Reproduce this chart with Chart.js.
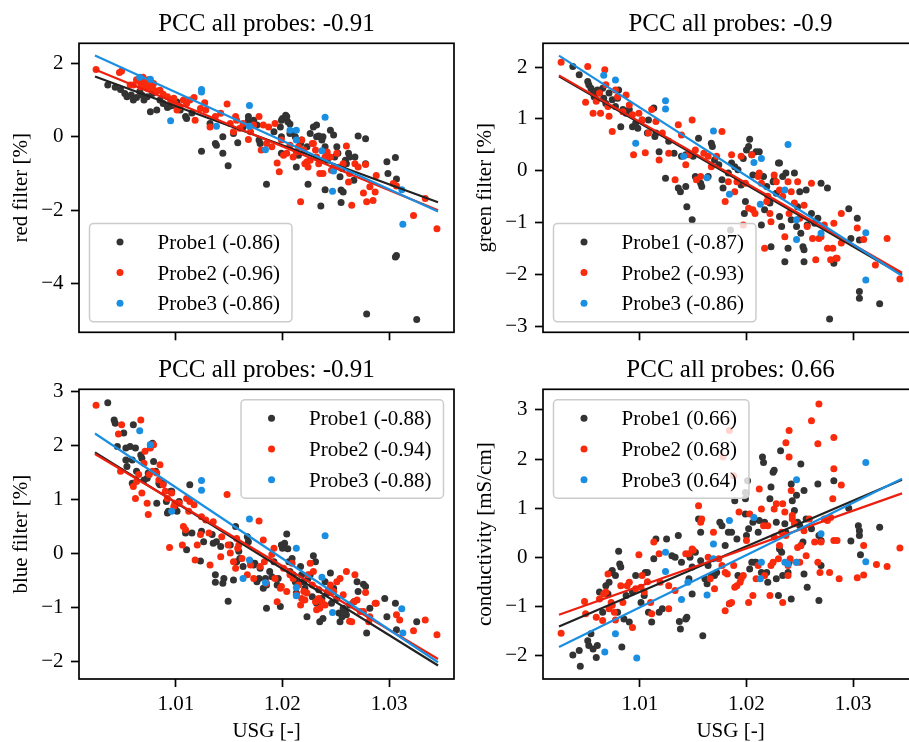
<!DOCTYPE html>
<html><head><meta charset="utf-8">
<script src="https://cdn.jsdelivr.net/npm/chart.js@4.4.1/dist/chart.umd.min.js"></script>
<style>
html,body{margin:0;padding:0;background:#fff;width:909px;height:742px;overflow:hidden;}
#wrap{position:relative;width:909px;height:742px;overflow:hidden;background:#fff;}
canvas{position:absolute;}
</style></head><body><div id="wrap">
<canvas id="c1" width="460" height="350" style="left:0px;top:0px"></canvas>
<canvas id="c2" width="470" height="350" style="left:460px;top:0px"></canvas>
<canvas id="c3" width="460" height="392" style="left:0px;top:350px"></canvas>
<canvas id="c4" width="470" height="392" style="left:460px;top:350px"></canvas>
</div>
<script>
// ---------------- DATA ----------------
const xTicks = [1.01, 1.02, 1.03];
const fitX = [1.0024, 1.0346];

const panelTitles = ['PCC all probes: -0.91', 'PCC all probes: -0.9', 'PCC all probes: -0.91', 'PCC all probes: 0.66'];
const yLabels = ['red filter [%]', 'green filter [%]', 'blue filter [%]', 'conductivity [mS/cm]'];
const xLabel = 'USG [-]';

const redLegend = ['Probe1 (-0.86)', 'Probe2 (-0.96)', 'Probe3 (-0.86)'];
const greenLegend = ['Probe1 (-0.87)', 'Probe2 (-0.93)', 'Probe3 (-0.86)'];
const blueLegend = ['Probe1 (-0.88)', 'Probe2 (-0.94)', 'Probe3 (-0.88)'];
const condLegend = ['Probe1 (0.66)', 'Probe2 (0.68)', 'Probe3 (0.64)'];

const redTicks = [-4, -2, 0, 2];
const greenTicks = [-3, -2, -1, 0, 1, 2];
const blueTicks = [-2, -1, 0, 1, 2, 3];
const condTicks = [-2, -1, 0, 1, 2, 3];

// red filter
const redProbe1 = [[1.0036,1.41],[1.0043,1.35],[1.0048,1.29],[1.0052,1.18],[1.0054,1.09],[1.0058,1.14],[1.0060,1.0],[1.0063,1.07],[1.0066,1.23],[1.0068,1.14],[1.0070,1.0],[1.0073,1.09],[1.0076,0.68],[1.0078,1.18],[1.0082,0.73],[1.0085,1.0],[1.0088,0.91],[1.0092,0.8],[1.0095,0.84],[1.0098,0.86],[1.0101,0.95],[1.0104,0.73],[1.0109,0.55],[1.0110,0.5],[1.0115,0.65],[1.0124,-0.39],[1.0132,0.36],[1.0137,-0.18],[1.0138,-0.23],[1.0144,0],[1.0144,-0.45],[1.0149,-0.79],[1.0154,0.09],[1.0158,-0.16],[1.0163,0.27],[1.0168,0.55],[1.0168,0.45],[1.0173,0.45],[1.0176,0.32],[1.0178,-0.09],[1.0179,-0.18],[1.0185,-1.29],[1.0192,0.14],[1.0198,0.27],[1.0199,0.45],[1.0200,0.5],[1.0203,0.59],[1.0204,0.55],[1.0205,0.41],[1.0207,0.35],[1.0199,0],[1.0199,-0.45],[1.0207,0.09],[1.0210,0.14],[1.0212,0],[1.0213,-0.82],[1.0215,-0.5],[1.0217,-0.18],[1.0218,-0.09],[1.0223,-0.27],[1.0224,-1.29],[1.0226,0.09],[1.0229,0.27],[1.0232,0.32],[1.0232,0],[1.0234,0.02],[1.0236,-1.88],[1.0237,-0.09],[1.0238,0],[1.0240,-0.27],[1.0240,-1.44],[1.0242,-0.64],[1.0245,0.18],[1.0248,0.05],[1.0249,-0.55],[1.0251,-0.27],[1.0252,-0.45],[1.0254,-1.09],[1.0255,-1.45],[1.0256,-0.86],[1.0257,-1.5],[1.0259,-0.64],[1.0260,-0.73],[1.0262,-0.45],[1.0263,-0.55],[1.0267,-1.18],[1.0268,-0.55],[1.0271,0.02],[1.0278,-0.05],[1.0279,-4.82],[1.0298,-0.68],[1.0299,-1.0],[1.0306,-0.56],[1.0307,-1.15],[1.0307,-3.23],[1.0306,-3.27],[1.0326,-4.97],[1.0278,-0.73],[1.0255,-1.79]];
const redProbe2 = [[1.0025,1.83],[1.0047,1.75],[1.0049,1.79],[1.0057,1.41],[1.0060,1.41],[1.0063,1.55],[1.0066,1.5],[1.0067,1.36],[1.0069,1.62],[1.0070,1.45],[1.0072,1.45],[1.0073,1.32],[1.0074,1.55],[1.0075,1.36],[1.0078,1.32],[1.0079,1.45],[1.0082,1.25],[1.0085,1.27],[1.0088,1.16],[1.0092,1.09],[1.0095,1.0],[1.0098,1.05],[1.0099,0.91],[1.0101,0.73],[1.0104,0.82],[1.0107,1.0],[1.0110,0.91],[1.0113,1.0],[1.0117,1.07],[1.0118,0.45],[1.0123,0.77],[1.0127,0.93],[1.0128,0.73],[1.0132,0.27],[1.0137,0.55],[1.0142,0.64],[1.0148,0.89],[1.0151,0.36],[1.0154,0.14],[1.0156,0.55],[1.0157,0.45],[1.0160,0.23],[1.0163,0.36],[1.0168,-0.07],[1.0170,0.14],[1.0173,0.32],[1.0178,0.55],[1.0180,-0.36],[1.0182,0.32],[1.0185,-0.18],[1.0187,0.27],[1.0190,-0.27],[1.0193,0.36],[1.0195,-0.71],[1.0197,-0.95],[1.0199,-0.09],[1.0201,-0.5],[1.0204,-0.45],[1.0207,-0.23],[1.0210,-0.55],[1.0213,-0.41],[1.0215,-0.27],[1.0217,-1.77],[1.0218,-0.09],[1.0220,-0.36],[1.0221,-0.73],[1.0223,-0.68],[1.0224,-0.82],[1.0226,-0.64],[1.0228,-0.18],[1.0229,-0.18],[1.0231,-0.36],[1.0232,-0.55],[1.0234,-0.73],[1.0235,-1.0],[1.0237,-0.64],[1.0238,-1.0],[1.0240,-0.55],[1.0242,-0.41],[1.0245,-0.55],[1.0246,-0.91],[1.0248,-0.82],[1.0251,-0.45],[1.0254,-0.82],[1.0257,-0.73],[1.0260,-0.25],[1.0262,-1.23],[1.0263,-1.0],[1.0265,-1.86],[1.0268,-0.73],[1.0271,-0.82],[1.0276,-1.53],[1.0278,-0.75],[1.0279,-1.77],[1.0282,-1.36],[1.0285,-1.73],[1.0287,-1.5],[1.0288,-1.05],[1.0304,-1.27],[1.0307,-1.34],[1.0323,-2.14],[1.0334,-1.68],[1.0345,-2.5]];
const redProbe3 = [[1.0066,1.62],[1.0076,1.57],[1.0095,0.44],[1.0124,1.29],[1.0124,1.22],[1.0138,0.29],[1.0169,0.85],[1.0169,0.29],[1.0184,-0.35],[1.0207,0.18],[1.0213,0.18],[1.0213,-0.09],[1.0240,0.53],[1.0237,-0.38],[1.0247,-1.48],[1.0248,-0.93],[1.0313,-2.38],[1.0312,-1.44]];
const redFit1 = [1.64, -1.78];
const redFit2 = [1.83, -2.0];
const redFit3 = [2.21, -2.03];

// green filter
const greenProbe1 = [[1.0037,2.01],[1.0043,1.85],[1.0051,1.72],[1.0052,1.66],[1.0054,1.59],[1.0056,1.53],[1.0057,1.43],[1.0059,1.37],[1.0060,1.56],[1.0062,1.5],[1.0065,1.59],[1.0066,1.4],[1.0068,1.3],[1.0071,1.5],[1.0074,1.37],[1.0077,1.24],[1.0079,1.4],[1.0080,1.56],[1.0082,0.85],[1.0084,1.18],[1.0087,1.11],[1.0090,1.18],[1.0093,0.85],[1.0096,0.92],[1.0098,0.82],[1.0102,0.98],[1.0107,0.73],[1.0108,0.98],[1.0113,1.21],[1.0114,0.66],[1.0115,0.73],[1.0118,0.37],[1.0124,-0.14],[1.0127,0.57],[1.0132,0.34],[1.0136,-0.33],[1.0138,-0.4],[1.0139,0.28],[1.0143,0.31],[1.0143,-0.3],[1.0144,-0.69],[1.0149,-0.94],[1.0150,0.28],[1.0152,-0.11],[1.0155,0.63],[1.0157,-0.24],[1.0158,-0.3],[1.0164,-0.11],[1.0167,0.53],[1.0168,0.47],[1.0170,0.21],[1.0174,0.12],[1.0177,-0.17],[1.0178,-0.33],[1.0183,-0.04],[1.0186,0.15],[1.0189,0.08],[1.0192,0.02],[1.0195,-0.27],[1.0197,0.24],[1.0198,-0.82],[1.0199,-0.59],[1.0200,0.4],[1.0202,0.47],[1.0203,0.61],[1.0205,0.31],[1.0206,-0.08],[1.0209,0.37],[1.0211,-0.08],[1.0212,0.37],[1.0214,-1.04],[1.0216,-0.11],[1.0217,-0.75],[1.0219,-0.3],[1.0222,-0.62],[1.0223,-1.46],[1.0225,-0.21],[1.0226,-0.17],[1.0228,-0.43],[1.0230,0.15],[1.0231,0.15],[1.0231,-0.88],[1.0233,-1.07],[1.0234,-0.11],[1.0236,-1.75],[1.0237,-0.04],[1.0239,-1.49],[1.0242,-0.94],[1.0245,-0.04],[1.0247,-1.07],[1.0248,-0.69],[1.0250,-0.4],[1.0251,-1.2],[1.0253,-1.46],[1.0254,-1.52],[1.0254,-1.75],[1.0256,-0.37],[1.0257,-1.04],[1.0261,-0.82],[1.0264,-1.01],[1.0267,-0.91],[1.0270,-0.24],[1.0276,-0.33],[1.0278,-2.85],[1.0282,-1.78],[1.0296,-0.73],[1.0298,-1.3],[1.0304,-0.91],[1.0306,-1.33],[1.0306,-2.32],[1.0306,-2.45],[1.0325,-2.56],[1.0185,-1.14]];
const greenProbe2 = [[1.0026,2.09],[1.0049,1.32],[1.0051,2.01],[1.0056,1.11],[1.0059,1.34],[1.0062,1.5],[1.0063,1.11],[1.0067,1.95],[1.0068,1.66],[1.0070,1.24],[1.0071,1.05],[1.0074,0.76],[1.0077,1.56],[1.0079,1.43],[1.0084,1.14],[1.0087,1.46],[1.0090,1.27],[1.0093,1.08],[1.0094,0.31],[1.0099,1.11],[1.0102,0.98],[1.0105,0.35],[1.0108,0.73],[1.0111,1.18],[1.0115,0.95],[1.0118,0.21],[1.0121,0.73],[1.0127,0.34],[1.0133,-0.17],[1.0136,0.89],[1.0139,0.69],[1.0143,0.12],[1.0146,0.31],[1.0149,0.98],[1.0152,0.4],[1.0153,-0.17],[1.0157,-0.11],[1.0160,0.34],[1.0164,0.28],[1.0167,0.08],[1.0172,0.28],[1.0177,0.76],[1.0180,-0.59],[1.0183,-0.21],[1.0186,0.31],[1.0189,-0.4],[1.0191,-0.21],[1.0195,0.28],[1.0197,-1.04],[1.0199,-0.24],[1.0202,-0.72],[1.0205,0.31],[1.0206,-0.75],[1.0208,-0.82],[1.0211,-0.11],[1.0212,-0.04],[1.0214,-0.24],[1.0217,-1.49],[1.0219,-0.59],[1.0220,-0.49],[1.0222,-0.82],[1.0223,-0.98],[1.0226,-0.08],[1.0228,-0.21],[1.0231,-0.37],[1.0234,-0.49],[1.0236,-1.27],[1.0239,-0.21],[1.0240,-0.82],[1.0242,-0.4],[1.0245,-0.62],[1.0248,-0.21],[1.0250,-0.91],[1.0254,-0.66],[1.0257,-1.07],[1.0261,-0.24],[1.0262,-1.3],[1.0265,-1.71],[1.0268,-1.3],[1.0270,-1.27],[1.0273,-1.04],[1.0276,-1.49],[1.0279,-1.71],[1.0281,-1.49],[1.0282,-1.01],[1.0284,-1.68],[1.0285,-1.68],[1.0289,-0.82],[1.0289,-1.39],[1.0304,-1.1],[1.0310,-1.32],[1.0321,-1.81],[1.0332,-1.3],[1.0344,-2.08]];
const greenProbe3 = [[1.0066,1.84],[1.0077,1.75],[1.0096,0.53],[1.0124,1.35],[1.0124,1.19],[1.0141,0.28],[1.0169,0.77],[1.0163,-0.13],[1.0184,-0.45],[1.0207,0.16],[1.0213,-0.64],[1.0214,0.24],[1.0236,-0.37],[1.0239,0.51],[1.0247,-1.32],[1.0247,-0.94],[1.0270,-1.2],[1.0312,-1.19],[1.0312,-2.1]];
const greenFit1 = [1.82, -2.0];
const greenFit2 = [1.84, -1.96];
const greenFit3 = [2.22, -2.02];

// blue filter
const blueProbe1 = [[1.0036,2.79],[1.0042,2.47],[1.0043,2.41],[1.0045,1.98],[1.0051,2.23],[1.0053,1.95],[1.0053,1.73],[1.0054,1.61],[1.0057,1.98],[1.0059,1.73],[1.0059,1.3],[1.0060,2.38],[1.0062,1.95],[1.0063,1.52],[1.0067,1.82],[1.0068,1.76],[1.0070,1.36],[1.0073,1.39],[1.0074,1.49],[1.0076,2.01],[1.0078,2.04],[1.0079,1.7],[1.0081,1.52],[1.0082,0.93],[1.0084,1.3],[1.0085,1.27],[1.0088,1.3],[1.0091,0.96],[1.0092,0.75],[1.0093,0.78],[1.0095,1.15],[1.0096,1.15],[1.0099,0.84],[1.0101,0.78],[1.0103,0.96],[1.0109,0.38],[1.0110,0.07],[1.0113,1.27],[1.0115,0.38],[1.0123,-0.14],[1.0124,0.41],[1.0126,0.22],[1.0134,0.35],[1.0135,0.19],[1.0137,-0.39],[1.0137,-0.53],[1.0138,0.22],[1.0142,0.13],[1.0144,-0.55],[1.0145,-0.46],[1.0149,-0.88],[1.0151,0.16],[1.0154,-0.49],[1.0156,0.5],[1.0157,-0.15],[1.0159,0.04],[1.0160,-0.09],[1.0163,-0.24],[1.0167,0.31],[1.0168,0.22],[1.0170,-0.15],[1.0173,-0.21],[1.0174,-0.18],[1.0176,-0.52],[1.0178,-0.46],[1.0179,-0.27],[1.0182,-0.64],[1.0184,-0.46],[1.0185,-1.01],[1.0185,-0.58],[1.0188,-0.33],[1.0190,-0.43],[1.0192,-0.15],[1.0195,-0.58],[1.0196,-0.46],[1.0198,-0.98],[1.0199,0.16],[1.0200,0.1],[1.0202,0.19],[1.0204,0.36],[1.0205,0.09],[1.0206,-0.15],[1.0207,-0.33],[1.0209,-0.09],[1.0210,-0.39],[1.0212,-0.52],[1.0213,-0.73],[1.0215,-0.55],[1.0217,-0.24],[1.0218,-0.39],[1.0220,-0.52],[1.0221,-0.64],[1.0223,-1.17],[1.0224,-0.46],[1.0226,-0.39],[1.0228,-0.8],[1.0229,-0.04],[1.0231,-0.15],[1.0232,-0.92],[1.0234,-0.67],[1.0235,-1.26],[1.0237,-0.83],[1.0238,-1.2],[1.0240,-0.52],[1.0242,-0.73],[1.0245,-0.36],[1.0246,-0.92],[1.0248,-0.64],[1.0251,-0.83],[1.0253,-1.1],[1.0254,-1.26],[1.0256,-1.17],[1.0257,-1.01],[1.0259,-1.07],[1.0260,-1.13],[1.0263,-0.95],[1.0267,-0.89],[1.0270,-0.52],[1.0271,-0.7],[1.0276,-0.57],[1.0278,-0.61],[1.0279,-1.47],[1.0282,-1.01],[1.0296,-0.83],[1.0298,-1.17],[1.0306,-0.92],[1.0307,-1.41],[1.0326,-1.26]];
const blueProbe2 = [[1.0025,2.74],[1.0048,1.52],[1.0049,2.38],[1.0046,2.21],[1.0060,1.24],[1.0062,1.02],[1.0063,1.33],[1.0065,1.46],[1.0067,2.47],[1.0068,1.12],[1.0070,1.67],[1.0071,1.89],[1.0073,0.93],[1.0074,0.72],[1.0075,1.46],[1.0076,1.95],[1.0078,1.52],[1.0079,2.01],[1.0082,1.49],[1.0084,1.36],[1.0085,1.64],[1.0088,1.27],[1.0090,1.15],[1.0092,1.02],[1.0094,0.11],[1.0096,1.12],[1.0098,0.87],[1.0099,0.93],[1.0103,0.93],[1.0106,0.16],[1.0107,0.5],[1.0109,0.44],[1.0110,1.02],[1.0112,0.78],[1.0113,0.96],[1.0117,0.9],[1.0118,-0.12],[1.0120,0.16],[1.0123,0.35],[1.0124,0.68],[1.0128,0.62],[1.0131,0.38],[1.0132,-0.21],[1.0135,0.59],[1.0142,-0.06],[1.0143,0.31],[1.0148,1.09],[1.0149,0.16],[1.0151,0.01],[1.0154,-0.15],[1.0156,-0.27],[1.0157,0.28],[1.0158,0.1],[1.0159,0.16],[1.0162,-0.09],[1.0167,-0.39],[1.0170,-0.21],[1.0173,-0.46],[1.0178,0.6],[1.0179,-0.24],[1.0182,0.25],[1.0183,-0.15],[1.0185,-0.55],[1.0190,-0.02],[1.0192,0.1],[1.0193,-0.46],[1.0195,-0.89],[1.0198,-0.64],[1.0199,-0.61],[1.0201,-0.27],[1.0204,-0.7],[1.0207,-0.39],[1.0209,-0.18],[1.0210,-0.46],[1.0213,-0.76],[1.0215,-0.58],[1.0217,-0.95],[1.0218,-0.83],[1.0220,-0.7],[1.0221,-0.86],[1.0223,-0.73],[1.0224,-0.39],[1.0226,-0.18],[1.0228,-0.58],[1.0229,-0.33],[1.0231,-0.89],[1.0232,-1.04],[1.0234,-0.83],[1.0235,-1.01],[1.0237,-0.89],[1.0240,-0.95],[1.0243,-0.67],[1.0245,-0.58],[1.0248,-0.7],[1.0251,-0.52],[1.0254,-0.46],[1.0257,-0.76],[1.0260,-0.33],[1.0263,-1.25],[1.0265,-1.26],[1.0267,-0.89],[1.0268,-0.39],[1.0270,-0.86],[1.0273,-1.07],[1.0276,-1.07],[1.0278,-0.72],[1.0281,-1.26],[1.0282,-1.17],[1.0287,-0.92],[1.0288,-0.92],[1.0307,-1.13],[1.0310,-1.23],[1.0323,-1.43],[1.0334,-1.23],[1.0345,-1.5]];
const blueProbe3 = [[1.0066,2.27],[1.0076,2.01],[1.0096,0.78],[1.0124,1.35],[1.0124,1.17],[1.0163,-0.46],[1.0169,0.64],[1.0169,-0.12],[1.0184,-0.54],[1.0213,-0.78],[1.0213,0.1],[1.0213,-0.63],[1.0237,-0.44],[1.0240,0.33],[1.0247,-1.09],[1.0312,-1.02],[1.0313,-1.47]];
const blueFit1 = [1.87, -2.07];
const blueFit2 = [1.84, -1.95];
const blueFit3 = [2.22, -2.01];

// conductivity
const condProbe1 = [[1.0037,-1.99],[1.0043,-1.9],[1.0044,-2.22],[1.0051,-1.7],[1.0052,-1.8],[1.0054,-1.56],[1.0056,-1.87],[1.0059,-2.04],[1.0060,-1.8],[1.0062,-0.71],[1.0065,-1.12],[1.0068,-0.58],[1.0070,-0.75],[1.0071,-0.51],[1.0073,-0.31],[1.0074,-0.27],[1.0077,-0.37],[1.0079,-1.12],[1.0080,0.12],[1.0081,-0.14],[1.0082,-0.2],[1.0083,-1.83],[1.0085,-1.26],[1.0087,-0.78],[1.0090,-1.32],[1.0093,-0.71],[1.0096,-0.37],[1.0101,-0.92],[1.0104,-0.78],[1.0105,-0.31],[1.0107,-0.31],[1.0108,-1.12],[1.0111,-1.32],[1.0113,-0.03],[1.0115,0.37],[1.0118,-1.12],[1.0121,-1.05],[1.0125,0.37],[1.0130,0.03],[1.0133,0],[1.0136,0.44],[1.0137,-1.31],[1.0138,-1.46],[1.0139,-0.1],[1.0143,-1.26],[1.0144,-1.22],[1.0146,-0.44],[1.0147,0],[1.0149,-0.2],[1.0149,-0.75],[1.0152,0.1],[1.0155,0.78],[1.0157,-0.07],[1.0157,0.51],[1.0159,-1.6],[1.0161,-0.44],[1.0163,-0.54],[1.0164,-0.17],[1.0167,-0.37],[1.0170,-0.37],[1.0172,-0.31],[1.0175,0.71],[1.0177,0.64],[1.0180,0.24],[1.0183,0.51],[1.0184,-0.95],[1.0186,0.51],[1.0189,1.15],[1.0191,0.37],[1.0192,-0.37],[1.0195,-0.41],[1.0199,0.88],[1.0199,1.19],[1.0200,0.44],[1.0202,0.58],[1.0203,-0.24],[1.0205,-0.1],[1.0206,0.71],[1.0208,-0.1],[1.0209,-0.1],[1.0211,0.51],[1.0212,0.75],[1.0214,-0.31],[1.0215,2.04],[1.0216,1.93],[1.0217,0.71],[1.0219,-0.31],[1.0220,-0.51],[1.0222,1.19],[1.0223,1.43],[1.0225,1.73],[1.0226,1.77],[1.0228,0.71],[1.0228,-0.44],[1.0230,-0.78],[1.0231,0.17],[1.0232,2.17],[1.0233,0.1],[1.0234,-0.37],[1.0236,0.68],[1.0237,0.51],[1.0239,-0.31],[1.0240,-0.1],[1.0242,-0.85],[1.0242,1.49],[1.0243,1.15],[1.0245,0.95],[1.0247,1.26],[1.0248,0.71],[1.0250,0.64],[1.0251,1.9],[1.0251,0.24],[1.0253,0.31],[1.0254,1.36],[1.0254,-0.34],[1.0256,0.78],[1.0257,-0.61],[1.0261,0.58],[1.0267,1.49],[1.0268,0.44],[1.0270,0.34],[1.0268,-0.88],[1.0270,-0.17],[1.0282,1.56],[1.0296,1.0],[1.0298,0.33],[1.0305,0.64],[1.0306,0.44],[1.0306,0.54],[1.0307,0.05],[1.0325,0.61],[1.0199,1.32],[1.0201,1.56]];
const condProbe2 = [[1.0026,-1.55],[1.0048,-0.9],[1.0049,-1.15],[1.0059,-1.22],[1.0062,-0.85],[1.0065,-1.29],[1.0066,-0.75],[1.0068,-0.71],[1.0070,-0.34],[1.0071,-1.05],[1.0073,-0.92],[1.0074,-0.98],[1.0076,-1.12],[1.0077,-1.28],[1.0082,-0.58],[1.0084,-0.92],[1.0088,-0.58],[1.0090,-0.51],[1.0093,-1.43],[1.0096,-0.64],[1.0099,0.05],[1.0101,-0.61],[1.0102,-0.37],[1.0104,-0.71],[1.0107,-0.5],[1.0110,-0.92],[1.0111,-1.15],[1.0113,0.31],[1.0118,0.07],[1.0119,-0.51],[1.0127,-1.05],[1.0127,-0.58],[1.0133,-0.68],[1.0143,0.07],[1.0146,0.07],[1.0149,0.17],[1.0150,0.14],[1.0155,1.05],[1.0157,0.71],[1.0158,0.78],[1.0164,0],[1.0166,-0.44],[1.0169,0.51],[1.0170,-0.64],[1.0174,-0.03],[1.0177,-0.17],[1.0180,-1.09],[1.0180,-0.31],[1.0182,-0.34],[1.0184,-0.95],[1.0186,-0.92],[1.0188,-0.17],[1.0189,-0.61],[1.0191,-0.58],[1.0193,0.92],[1.0194,-0.51],[1.0195,-0.44],[1.0197,-0.37],[1.0200,0.34],[1.0202,-0.92],[1.0203,0.88],[1.0206,-0.78],[1.0209,-0.44],[1.0211,-0.17],[1.0212,1.39],[1.0214,0.98],[1.0216,0.64],[1.0217,-0.37],[1.0220,0.64],[1.0222,-0.78],[1.0223,-0.17],[1.0225,-0.1],[1.0226,0.41],[1.0226,0.98],[1.0228,1.09],[1.0230,-0.03],[1.0231,0.24],[1.0233,0.51],[1.0234,1.09],[1.0234,-0.92],[1.0236,0.92],[1.0237,2.33],[1.0237,0.44],[1.0239,-0.17],[1.0239,-0.37],[1.0240,2.04],[1.0240,2.58],[1.0241,-0.03],[1.0242,1.36],[1.0243,0.78],[1.0243,0.85],[1.0245,0.68],[1.0247,-0.1],[1.0248,0.2],[1.0250,-0.1],[1.0251,0.24],[1.0254,0.54],[1.0256,0.03],[1.0259,0.78],[1.0261,2.78],[1.0264,0.31],[1.0267,-0.1],[1.0267,2.31],[1.0268,3.12],[1.0269,-0.31],[1.0270,0.31],[1.0273,0.78],[1.0276,0.75],[1.0278,-0.31],[1.0279,0.81],[1.0281,1.19],[1.0282,1.8],[1.0282,2.44],[1.0282,0.34],[1.0285,0.34],[1.0287,-0.44],[1.0289,1.47],[1.0304,-0.42],[1.0310,-0.36],[1.0310,0.24],[1.0322,-0.15],[1.0332,-0.19],[1.0344,0.19],[1.0178,2.04],[1.0184,2.58],[1.0188,1.66]];
const condProbe3 = [[1.0067,-1.93],[1.0077,-1.56],[1.0097,-2.05],[1.0124,0.1],[1.0124,-0.29],[1.0139,-0.86],[1.0145,-0.51],[1.0163,-0.77],[1.0169,0.27],[1.0169,-0.03],[1.0184,0.75],[1.0207,0.81],[1.0213,-0.44],[1.0214,-0.1],[1.0236,-0.1],[1.0239,-0.14],[1.0247,1.58],[1.0247,-0.1],[1.0270,0.48],[1.0312,1.93],[1.0312,-0.09]];
const condFit1 = [-1.41, 1.58];
const condFit2 = [-1.17, 1.30];
const condFit3 = [-1.83, 1.60];

// ---------------- STYLE ----------------
const X_MIN = 1.0009, X_MAX = 1.0361;
const COLORS = ['#333333', '#fa2a0d', '#1a8fe2'];
const LINE_COLORS = ['#222222', '#ec1f0e', '#1a8fe2'];
const FONT = "'Liberation Serif', 'Times New Roman', serif";

function fmtTick(v) { return v < 0 ? '\u2212' + Math.abs(v) : String(v); }

function roundRect(ctx, x, y, w, h, r) {
  ctx.beginPath();
  ctx.moveTo(x + r, y);
  ctx.lineTo(x + w - r, y); ctx.arcTo(x + w, y, x + w, y + r, r);
  ctx.lineTo(x + w, y + h - r); ctx.arcTo(x + w, y + h, x + w - r, y + h, r);
  ctx.lineTo(x + r, y + h); ctx.arcTo(x, y + h, x, y + h - r, r);
  ctx.lineTo(x, y + r); ctx.arcTo(x, y, x + r, y, r);
  ctx.closePath();
}

const decor = {
  id: 'decor',
  afterDraw(chart, args, o) {
    const ctx = chart.ctx, a = chart.chartArea;
    ctx.save();
    // frame
    ctx.lineWidth = 1.7; ctx.strokeStyle = '#000';
    ctx.strokeRect(a.left, a.top, a.right - a.left, a.bottom - a.top);
    ctx.fillStyle = '#000';
    // title
    ctx.font = '25px ' + FONT;
    ctx.textAlign = 'center'; ctx.textBaseline = 'alphabetic';
    ctx.fillText(o.title, (a.left + a.right) / 2, a.top - 12.6);
    // y label
    ctx.font = '21px ' + FONT;
    ctx.save();
    ctx.translate(a.left - 52, (a.top + a.bottom) / 2);
    ctx.rotate(-Math.PI / 2);
    ctx.fillText(o.ylabel, 0, 0);
    ctx.restore();
    // x label
    if (o.xlabel) ctx.fillText(o.xlabel, (a.left + a.right) / 2, a.bottom + 58);
    // legend
    const pad = 10.5, bp = 8.4, rowH = 20.2, ls = 10.5;
    ctx.textAlign = 'left';
    const tw = Math.max(...o.legend.map(t => ctx.measureText(t).width));
    const w = 68 + tw + 12;
    const h = bp * 2 + 3 * rowH + 2 * ls;
    const x0 = o.loc.indexOf('left') >= 0 ? a.left + pad : a.right - pad - w;
    const y0 = o.loc.indexOf('upper') >= 0 ? a.top + pad : a.bottom - pad - h;
    roundRect(ctx, x0, y0, w, h, 4);
    ctx.fillStyle = 'rgba(255,255,255,0.8)';
    ctx.fill();
    ctx.lineWidth = 1.5; ctx.strokeStyle = '#cccccc';
    ctx.stroke();
    o.legend.forEach((t, i) => {
      const cy = y0 + bp + rowH / 2 + i * (rowH + ls);
      ctx.beginPath();
      ctx.arc(x0 + 30.5, cy, 3.5, 0, Math.PI * 2);
      ctx.fillStyle = COLORS[i];
      ctx.fill();
      ctx.fillStyle = '#000';
      ctx.fillText(t, x0 + 68, cy + 7);
    });
    ctx.restore();
  }
};

function makePanel(id, cfg) {
  const ds = [];
  cfg.points.forEach((pts, i) => ds.push({
    data: pts.map(p => ({x: p[0], y: p[1]})),
    backgroundColor: COLORS[i], borderWidth: 0, pointRadius: 3.5, pointBorderWidth: 0,
    pointHoverRadius: 3.5, order: 6 - i
  }));
  cfg.fits.forEach((f, i) => ds.push({
    data: [{x: fitX[0], y: f[0]}, {x: fitX[1], y: f[1]}],
    showLine: true, borderColor: LINE_COLORS[i], backgroundColor: LINE_COLORS[i],
    borderWidth: 2.2, pointRadius: 0, order: 3 - i, fill: false
  }));
  const tickFont = {family: FONT, size: 21};
  new Chart(document.getElementById(id), {
    type: 'scatter',
    data: {datasets: ds},
    options: {
      responsive: false, animation: false, events: [], devicePixelRatio: 1,
      layout: {padding: {left: 0, top: cfg.top, right: cfg.right, bottom: 0}},
      plugins: {
        legend: {display: false}, tooltip: {enabled: false},
        decor: {title: cfg.title, ylabel: cfg.ylabel, xlabel: cfg.xlabel, legend: cfg.legend, loc: cfg.loc}
      },
      scales: {
        x: {
          type: 'linear', position: 'bottom', min: X_MIN, max: X_MAX,
          afterBuildTicks: s => { s.ticks = xTicks.map(v => ({value: v})); },
          afterFit: s => { s.height = cfg.xh; s.paddingLeft = 0; s.paddingRight = 0; },
          grid: {display: true, drawOnChartArea: false, drawTicks: true, tickLength: 8, tickWidth: 1.7, tickColor: '#000'},
          border: {display: false},
          ticks: {autoSkip: false, maxRotation: 0, minRotation: 0, padding: 5, color: '#000', font: tickFont,
                  callback: v => cfg.xlabel ? Number(v).toFixed(2) : ''}
        },
        y: {
          type: 'linear', position: 'left', min: cfg.ymin, max: cfg.ymax,
          afterBuildTicks: s => { s.ticks = cfg.yticks.map(v => ({value: v})); },
          afterFit: s => { s.width = cfg.yw; s.paddingTop = 0; s.paddingBottom = 0; },
          grid: {display: true, drawOnChartArea: false, drawTicks: true, tickLength: 8, tickWidth: 1.7, tickColor: '#000'},
          border: {display: false},
          ticks: {autoSkip: false, padding: 7.5, color: '#000', font: tickFont, callback: v => fmtTick(v)}
        }
      }
    },
    plugins: [decor]
  });
}

makePanel('c1', {points: [redProbe1, redProbe2, redProbe3], fits: [redFit1, redFit2, redFit3],
  ymin: -5.32, ymax: 2.545, yticks: redTicks, title: panelTitles[0], ylabel: yLabels[0], xlabel: null,
  legend: redLegend, loc: 'lower left', top: 43.3, right: 6, yw: 79, xh: 17.7});
makePanel('c2', {points: [greenProbe1, greenProbe2, greenProbe3], fits: [greenFit1, greenFit2, greenFit3],
  ymin: -3.108, ymax: 2.457, yticks: greenTicks, title: panelTitles[1], ylabel: yLabels[1], xlabel: null,
  legend: greenLegend, loc: 'lower left', top: 43.3, right: 12, yw: 83, xh: 17.7});
makePanel('c3', {points: [blueProbe1, blueProbe2, blueProbe3], fits: [blueFit1, blueFit2, blueFit3],
  ymin: -2.32, ymax: 3.037, yticks: blueTicks, title: panelTitles[2], ylabel: yLabels[2], xlabel: xLabel,
  legend: blueLegend, loc: 'upper right', top: 39.3, right: 6, yw: 79, xh: 63});
makePanel('c4', {points: [condProbe1, condProbe2, condProbe3], fits: [condFit1, condFit2, condFit3],
  ymin: -2.48, ymax: 3.42, yticks: condTicks, title: panelTitles[3], ylabel: yLabels[3], xlabel: xLabel,
  legend: condLegend, loc: 'upper left', top: 39.3, right: 12, yw: 83, xh: 63});
</script>
</body></html>
